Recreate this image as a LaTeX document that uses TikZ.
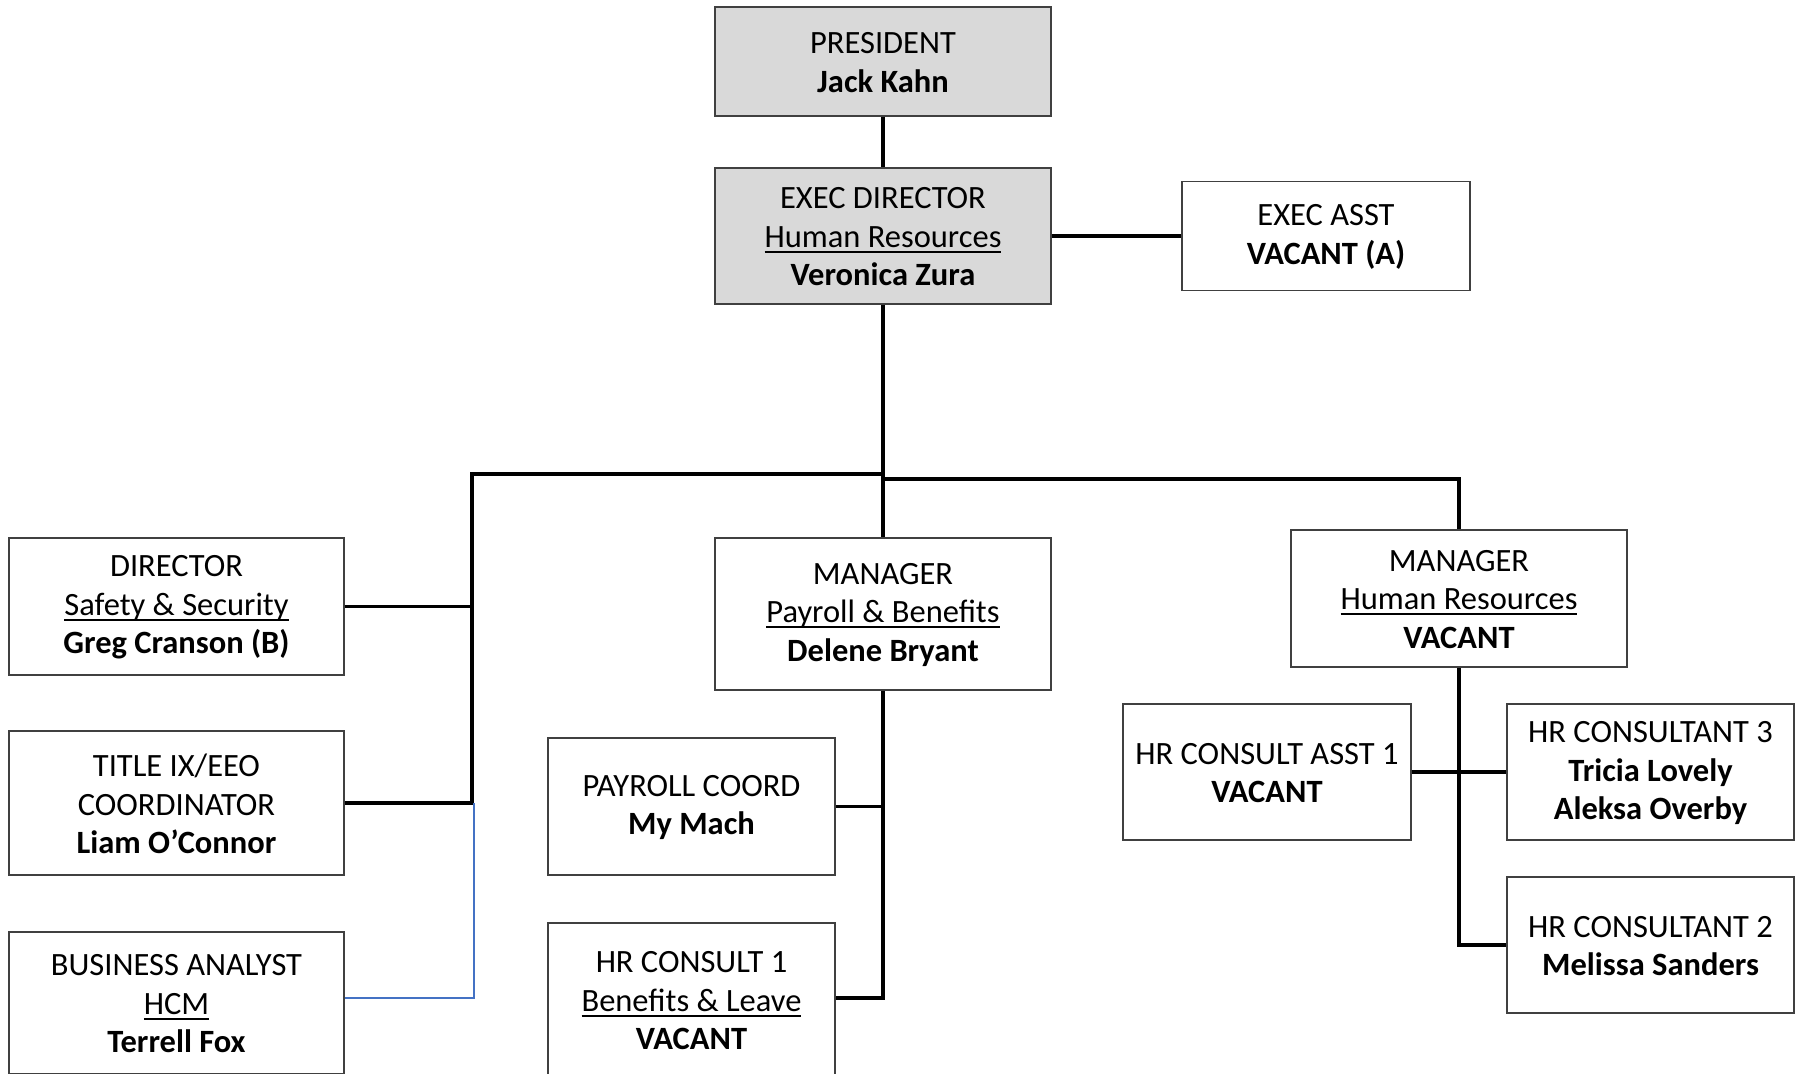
\documentclass[tikz,border=0pt]{standalone}
\usepackage{fontspec}
\setmainfont{Carlito}
\newcommand\uln[1]{\setbox0\hbox{#1}\rlap{\rule[-0.16em]{\wd0}{0.055em}}\box0}
\definecolor{boxgray}{HTML}{D9D9D9}
\definecolor{boxline}{HTML}{404040}
\definecolor{linkblue}{HTML}{4472C4}
\begin{document}
\begin{tikzpicture}[x=1pt,y=-1pt,
  lbl/.style={align=center,inner sep=0pt,yshift=-1pt,
    font=\fontsize{32.5}{38.5}\selectfont},
  box/.style={draw=boxline,line width=1.2pt,inner sep=0pt},
  txt/.style={label={[lbl]center:{#1}}},
  gbox/.style={box,fill=boxgray},
  conn/.style={line width=3.8pt,line cap=butt},
  blueconn/.style={draw=linkblue,line width=2pt}]
\useasboundingbox (0,0) rectangle (1800,1074);
\clip (0,0) rectangle (1800,1074);
% boxes
\node[gbox,minimum width=336pt,minimum height=109pt,txt={PRESIDENT\\\textbf{Jack Kahn}}] (pres) at (883,61.5) {};
\node[gbox,minimum width=336pt,minimum height=136pt,txt={EXEC DIRECTOR\\\uln{Human Resources}\\\textbf{Veronica Zura}}] (ed) at (883,236) {};
\node[box,minimum width=288pt,minimum height=109pt,txt={EXEC ASST\\\textbf{VACANT (A)}}] (ea) at (1326,236) {};
\node[box,minimum width=335pt,minimum height=137pt,txt={DIRECTOR\\\uln{Safety \& Security}\\\textbf{Greg Cranson (B)}}] (dir) at (176.5,606.5) {};
\node[box,minimum width=335pt,minimum height=144pt,txt={TITLE IX/EEO\\COORDINATOR\\\textbf{Liam O’Connor}}] (t9) at (176.5,803) {};
\node[box,minimum width=335pt,minimum height=142pt,txt={BUSINESS ANALYST\\\uln{HCM}\\\textbf{Terrell Fox}}] (ba) at (176.5,1003) {};
\node[box,minimum width=336pt,minimum height=152pt,txt={MANAGER\\\uln{Payroll \& Benefits}\\\textbf{Delene Bryant}}] (mp) at (883,614) {};
\node[box,minimum width=287pt,minimum height=137pt,txt={PAYROLL COORD\\\textbf{My Mach}}] (pc) at (691.5,806.5) {};
\node[box,minimum width=287pt,minimum height=154pt,txt={HR CONSULT 1\\\uln{Benefits \& Leave}\\\textbf{VACANT}}] (hc1) at (691.5,1000) {};
\node[box,minimum width=336pt,minimum height=137pt,txt={MANAGER\\\uln{Human Resources}\\\textbf{VACANT}}] (mhr) at (1459,598.5) {};
\node[box,minimum width=288pt,minimum height=136pt,txt={HR CONSULT ASST 1\\\textbf{VACANT}}] (hca) at (1267,772) {};
\node[box,minimum width=287pt,minimum height=136pt,txt={HR CONSULTANT 3\\\textbf{Tricia Lovely}\\\textbf{Aleksa Overby}}] (hc3) at (1650.5,772) {};
\node[box,minimum width=287pt,minimum height=136pt,txt={HR CONSULTANT 2\\\textbf{Melissa Sanders}}] (hc2) at (1650.5,945) {};
% bus coordinates
\coordinate (busL) at (472,474);
\coordinate (busM) at (883,474);
\coordinate (busMR) at (883,479);
\coordinate (busR) at (1459,479);
\coordinate (jT) at (472,803);
\coordinate (bT) at (474,803);
\coordinate (bB) at (474,998);
\coordinate (pB) at (883,998);
% connectors
\draw[conn] (pres.south) -- (ed.north);
\draw[conn] (ed.east) -- (ea.west);
\draw[conn] (ed.south) -- (mp.north);
\draw[conn] (busM) -- (busL) -- (jT) -- (t9.east);
\draw[conn] (dir.east) -- (dir.east -| busL);
\draw[conn] (busMR) -- (busR) -- (mhr.north);
\draw[blueconn] (bT) -- (bB) -- (bB -| ba.east);
\draw[conn] (mp.south) -- (pB) -- (pB -| hc1.east);
\draw[conn] (pc.east) -- (pc.east -| mp.south);
\draw[conn] (mhr.south) |- (hc2.west);
\draw[conn] (hca.east) -- (hc3.west);
\end{tikzpicture}
\end{document}
